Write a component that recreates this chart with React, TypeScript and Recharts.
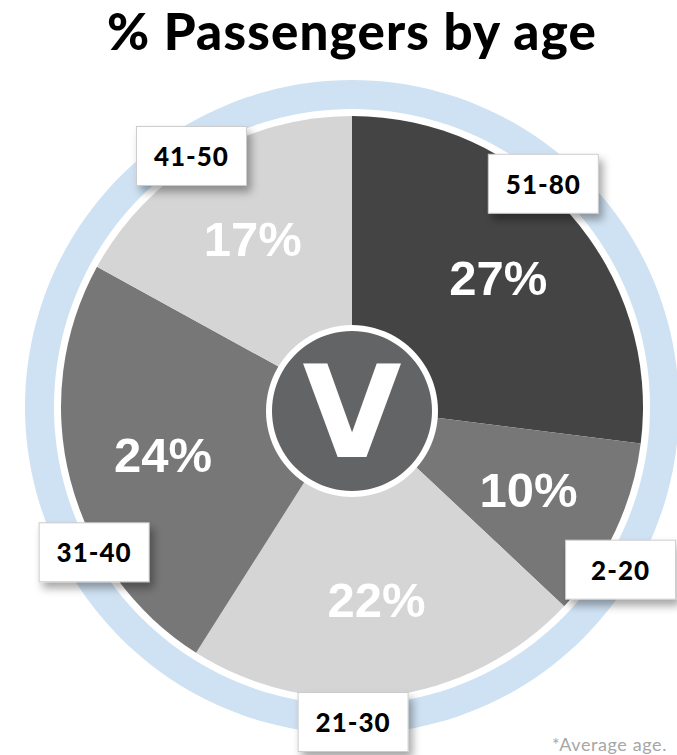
import { Pie, PieChart } from 'recharts'

const ageGroups = ['51-80', '2-20', '21-30', '31-40', '41-50']
const shares = [27, 10, 22, 24, 17]
const sliceColors = ['#444444', '#777777', '#d5d5d5', '#777777', '#d5d5d5']

// nudges so the name boxes sit where the original has them
const boxAngleShift = [8, -6, -7, 15, 2]
const boxRadius = [294, 314, 315, 296, 298]

const data = ageGroups.map((name, i) => ({ name, value: shares[i], fill: sliceColors[i] }))
const single = [{ name: 'ring', value: 1 }]

const RAD = Math.PI / 180
// pie props are relative to the 5px default margin
const CX = 347
const CY = 402

function SliceLabel(props: any) {
  const { cx, cy, midAngle, index, value } = props
  const r = 195
  const px = cx + r * Math.cos(-midAngle * RAD)
  const py = cy + r * Math.sin(-midAngle * RAD)
  const a = midAngle + boxAngleShift[index]
  const br = boxRadius[index]
  const bx = cx + br * Math.cos(-a * RAD)
  const by = cy + br * Math.sin(-a * RAD)
  const w = 110
  const h = 59
  return (
    <g>
      <text
        x={px}
        y={py}
        textAnchor="middle"
        dominantBaseline="central"
        fill="#ffffff"
        fontFamily="'Liberation Sans', Arial, sans-serif"
        fontWeight={700}
        fontSize={49}
      >
        {value}%
      </text>
      <defs>
        <filter id={`sh${index}`} x="-30%" y="-30%" width="160%" height="170%">
          <feDropShadow dx={4} dy={6} stdDeviation={4} floodColor="#000" floodOpacity={0.35} />
        </filter>
      </defs>
      <rect
        x={bx - w / 2}
        y={by - h / 2}
        width={w}
        height={h}
        fill="#ffffff"
        stroke="#cccccc"
        strokeWidth={1}
        filter={`url(#sh${index})`}
      />
      <text
        x={bx}
        y={by}
        textAnchor="middle"
        dominantBaseline="central"
        fill="#000000"
        fontFamily="Lato, sans-serif"
        fontWeight={900}
        fontSize={26}
        letterSpacing={1}
      >
        {ageGroups[index]}
      </text>
    </g>
  )
}

function CenterLabel(props: any) {
  const { cx, cy } = props
  return (
    <text
      x={cx}
      y={cy + 46}
      textAnchor="middle"
      fill="#ffffff"
      fontFamily="'DejaVu Sans', sans-serif"
      fontWeight={700}
      fontSize={128}
    >
      V
    </text>
  )
}

export default function App() {
  return (
    <div style={{ position: 'absolute', left: 0, top: 0, width: 677, height: 755, background: '#fff' }}>
      <div
        style={{
          position: 'absolute',
          left: 0,
          top: 0,
          width: 704,
          textAlign: 'center',
          fontFamily: 'Lato, sans-serif',
          fontWeight: 900,
          fontSize: 51,
          letterSpacing: 1.2,
          lineHeight: '62px',
          color: '#000',
        }}
      >
        % Passengers by age
      </div>
      <PieChart width={677} height={755} style={{ position: 'absolute', left: 0, top: 0 }}>
        <Pie
          data={single}
          dataKey="value"
          cx={CX}
          cy={CY}
          innerRadius={298}
          outerRadius={327}
          startAngle={90}
          endAngle={-270}
          fill="#cfe2f3"
          stroke="none"
          isAnimationActive={false}
        />
        <Pie
          data={data}
          dataKey="value"
          nameKey="name"
          cx={CX}
          cy={CY}
          innerRadius={0}
          outerRadius={291}
          startAngle={90}
          endAngle={-270}
          stroke="none"
          label={SliceLabel}
          labelLine={false}
          isAnimationActive={false}
        />
        <Pie
          data={single}
          dataKey="value"
          cx={CX}
          cy={CY + 4}
          outerRadius={86}
          startAngle={90}
          endAngle={-270}
          fill="#ffffff"
          stroke="none"
          isAnimationActive={false}
        />
        <Pie
          data={single}
          dataKey="value"
          cx={CX}
          cy={CY + 4}
          outerRadius={80}
          startAngle={90}
          endAngle={-270}
          fill="#636466"
          stroke="none"
          label={CenterLabel}
          labelLine={false}
          isAnimationActive={false}
        />
      </PieChart>
      <div
        style={{
          position: 'absolute',
          right: 10,
          top: 733,
          fontFamily: 'Lato, sans-serif',
          fontSize: 18,
          letterSpacing: 0.6,
          color: '#a6a6a6',
        }}
      >
        *Average age.
      </div>
    </div>
  )
}
